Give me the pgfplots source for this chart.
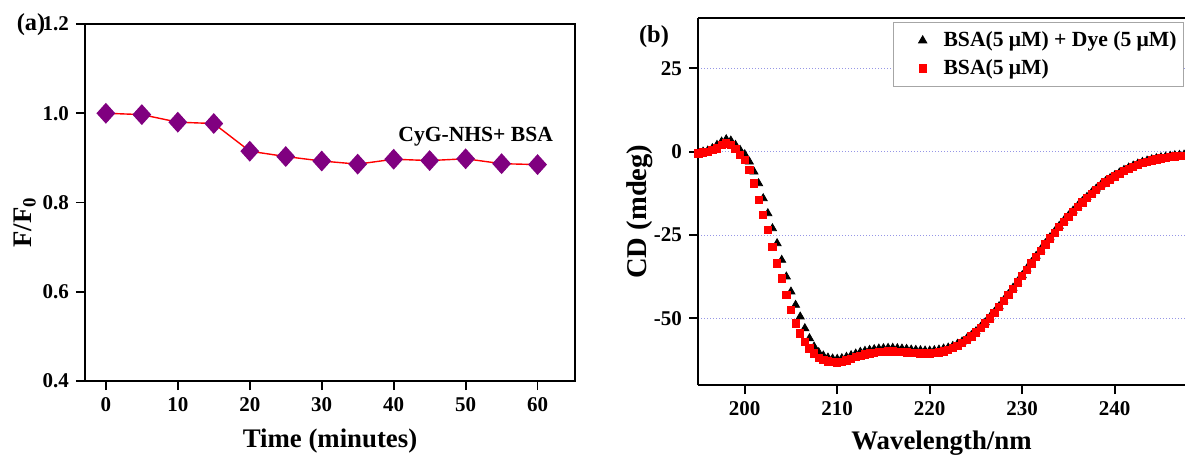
\documentclass[border=0pt]{standalone}
\usepackage{pgfplots}
\pgfplotsset{compat=1.18}
\usepackage{pgfplotstable}
\usepackage{fontspec}
\setmainfont{Liberation Serif}
\definecolor{dpurple}{RGB}{128,0,128}
\definecolor{gridc}{RGB}{150,150,230}

\pgfplotstableread{
t r
0 1.000
5 0.997
10 0.980
15 0.977
20 0.915
25 0.903
30 0.893
35 0.886
40 0.897
45 0.894
50 0.898
55 0.887
60 0.885
}\timedata

\pgfplotstableread{
w cd
195 -0.5
195.5 0
196 0.3
196.5 1
197 2
197.5 3
198 3.7
198.5 3.3
199 2
199.5 0.5
200 -0.8
200.5 -3
201 -6
201.5 -9.5
202 -14
202.5 -18.5
203 -23
203.5 -27.5
204 -32.5
204.5 -37.5
205 -42
205.5 -46
206 -49.5
206.5 -53
207 -56
207.5 -58.5
208 -60.2
208.5 -61.2
209 -61.8
209.5 -62.1
210 -62.2
210.5 -62
211 -61.6
211.5 -61.1
212 -60.6
212.5 -60.1
213 -59.8
213.5 -59.5
214 -59.3
214.5 -59.1
215 -59
215.5 -58.9
216 -58.9
216.5 -59
217 -59.1
217.5 -59.2
218 -59.4
218.5 -59.5
219 -59.6
219.5 -59.7
220 -59.7
220.5 -59.6
221 -59.4
221.5 -59.1
222 -58.8
222.5 -58.3
223 -57.7
223.5 -57
224 -56.1
224.5 -55.1
225 -53.9
225.5 -52.6
226 -51.2
226.5 -49.7
227 -48.1
227.5 -46.4
228 -44.6
228.5 -42.8
229 -40.9
229.5 -39
230 -37.1
230.5 -35.1
231 -33.2
231.5 -31.3
232 -29.4
232.5 -27.5
233 -25.7
233.5 -24.0
234 -22.3
234.5 -20.7
235 -19.2
235.5 -17.7
236 -16.3
236.5 -14.9
237 -13.6
237.5 -12.3
238 -11.1
238.5 -10.0
239 -8.9
239.5 -8.0
240 -7.1
240.5 -6.3
241 -5.5
241.5 -4.8
242 -4.2
242.5 -3.6
243 -3.1
243.5 -2.7
244 -2.3
244.5 -2.0
245 -1.7
245.5 -1.5
246 -1.3
246.5 -1.1
247 -1.0
247.5 -0.9
}\dyedata

\pgfplotstableread{
w cd
195 -0.5
195.5 -0.2
196 0
196.5 0.5
197 1
197.5 2
198 2.5
198.5 2.1
199 0.8
199.5 -1
200 -2.5
200.5 -5.5
201 -9.5
201.5 -14.5
202 -19
202.5 -23.5
203 -28.5
203.5 -33.5
204 -38
204.5 -43
205 -47.5
205.5 -51.5
206 -54.5
206.5 -57
207 -59
207.5 -60.5
208 -61.8
208.5 -62.5
209 -62.9
209.5 -63.1
210 -63.2
210.5 -63.0
211 -62.6
211.5 -62.1
212 -61.6
212.5 -61.2
213 -60.8
213.5 -60.5
214 -60.3
214.5 -60.1
215 -60
215.5 -59.9
216 -59.9
216.5 -60
217 -60.1
217.5 -60.2
218 -60.3
218.5 -60.4
219 -60.5
219.5 -60.5
220 -60.5
220.5 -60.4
221 -60.2
221.5 -59.9
222 -59.5
222.5 -58.9
223 -58.2
223.5 -57.4
224 -56.5
224.5 -55.4
225 -54.2
225.5 -52.9
226 -51.5
226.5 -50
227 -48.3
227.5 -46.6
228 -44.8
228.5 -43
229 -41.1
229.5 -39.2
230 -37.3
230.5 -35.4
231 -33.5
231.5 -31.6
232 -29.7
232.5 -27.8
233 -26
233.5 -24.3
234 -22.6
234.5 -21
235 -19.5
235.5 -18
236 -16.6
236.5 -15.2
237 -13.9
237.5 -12.6
238 -11.4
238.5 -10.3
239 -9.2
239.5 -8.3
240 -7.4
240.5 -6.6
241 -5.8
241.5 -5.1
242 -4.5
242.5 -3.9
243 -3.4
243.5 -3.0
244 -2.6
244.5 -2.3
245 -2.0
245.5 -1.8
246 -1.6
246.5 -1.4
247 -1.3
247.5 -1.2
}\bsadata

\pgfplotsset{
  common/.style={
    scale only axis,
    anchor=south west,
    axis line style={line width=1pt},
    tick align=outside,
    major tick length=4.5pt,
    every tick/.style={black, line width=0.9pt},
    xtick pos=bottom, ytick pos=left,
    /pgf/number format/assume math mode=true,
    tick label style={font=\bfseries\fontsize{10.5}{12}\selectfont},
    label style={font=\bfseries\fontsize{13.4}{15}\selectfont},
  }
}

\begin{document}
\begin{tikzpicture}
% panel (a)
\begin{axis}[common,
  at={(42.5pt,38pt)},
  width=245pt, height=178.5pt,
  xmin=-2.9, xmax=65.2, ymin=0.4, ymax=1.2,
  xtick={0,10,...,60},
  ytick={0.4,0.6,0.8,1.0,1.2},
  yticklabel style={/pgf/number format/.cd, fixed, fixed zerofill, precision=1},
  xlabel={Time (minutes)},
  ylabel={F/F\textsubscript{0}},
  xlabel style={at={(axis description cs:0.5,-0.169)}, anchor=center},
  ylabel style={at={(axis description cs:-0.123,0.445)}, anchor=center, rotate=0},
]
\addplot[red, line width=0.7pt, mark=diamond*, mark size=4.7pt,
  mark options={solid, fill=dpurple, draw=dpurple, xscale=1.2}] table[x=t,y=r] {\timedata};
\node[font=\bfseries\fontsize{10.8}{13}\selectfont] at (axis cs:51.4,0.948) {CyG-NHS+ BSA};
\end{axis}

% panel (b)
\begin{axis}[common,
  at={(349pt,36pt)},
  width=243.5pt, height=183.3pt,
  axis x line*=bottom, axis y line*=left,
  axis line style={line width=1pt, -},
  xmin=194.95, xmax=247.6, ymin=-70, ymax=40,
  xtick={200,210,...,240},
  ytick={-50,-25,0,25},
  yticklabels={-50,-25,0,25},
  ymajorgrids,
  grid style={gridc, line width=0.5pt, dash pattern=on 0.6pt off 0.9pt},
  xlabel={Wavelength/nm},
  ylabel={CD (mdeg)},
  xlabel style={at={(axis description cs:0.5,-0.158)}, anchor=center},
  ylabel style={at={(axis description cs:-0.120,0.473)}, anchor=center, rotate=0,
    font=\bfseries\fontsize{14.3}{16}\selectfont},
  legend image code/.code={\path (-12.9pt,0pt) (8.2pt,0pt); \draw[#1] plot coordinates {(0pt,0pt)};},
  legend style={at={(axis description cs:0.998,0.99)}, anchor=north east,
    draw=gray!70, line width=0.5pt, inner xsep=1.5pt, inner ysep=2.5pt,
    font=\bfseries\fontsize{10.8}{12}\selectfont, row sep=1pt},
  legend cell align=left,
  clip=false,
]
\addplot[only marks, mark=triangle*, mark size=2.3pt, mark options={black, fill=black}] table[x=w,y=cd] {\dyedata};
\addlegendentry{BSA(5 μM) + Dye (5 μM)}
\addplot[only marks, mark=square*, mark size=1.8pt, mark options={red, fill=red}] table[x=w,y=cd] {\bsadata};
\addlegendentry{BSA(5 μM)}
\draw[line width=1pt] (rel axis cs:0,1) -- (rel axis cs:1,1);
\end{axis}

\node[font=\bfseries\fontsize{12.2}{14}\selectfont] at (15.5pt,216pt) {(a)};
\node[font=\bfseries\fontsize{12.2}{14}\selectfont] at (327pt,210pt) {(b)};

\pgfresetboundingbox
\path (0,0) rectangle (592.5pt,228.5pt);
\end{tikzpicture}
\end{document}
